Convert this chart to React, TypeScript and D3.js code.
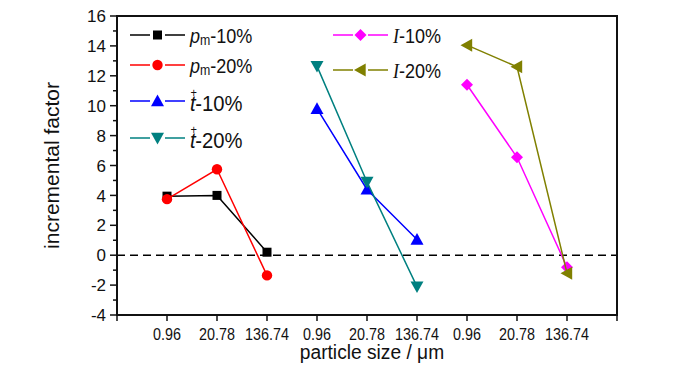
import * as d3 from 'd3'

const categories = ['0.96', '20.78', '136.74']
const groupCount = 3
const yTicks = [-4, -2, 0, 2, 4, 6, 8, 10, 12, 14, 16]

const pm10 = [3.95, 4.0, 0.2]
const pm20 = [3.75, 5.75, -1.35]
const t10 = [9.8, 4.4, 1.05]
const t20 = [12.65, 4.9, -2.1]
const i10 = [11.4, 6.55, -0.8]
const i20 = [14.05, 12.6, -1.2]

type Series = {key: string, group: number, values: number[], color: string, symbol: string}

const series: Series[] = [
  {key: 'pm10', group: 0, values: pm10, color: '#000000', symbol: 'square'},
  {key: 'pm20', group: 0, values: pm20, color: '#ff0000', symbol: 'circle'},
  {key: 't10', group: 1, values: t10, color: '#0000ff', symbol: 'up'},
  {key: 't20', group: 1, values: t20, color: '#008080', symbol: 'down'},
  {key: 'i10', group: 2, values: i10, color: '#ff00ff', symbol: 'diamond'},
  {key: 'i20', group: 2, values: i20, color: '#808000', symbol: 'left'},
]

const width = 700
const height = 374
const marginLeft = 117
const marginRight = 83
const marginTop = 16
const marginBottom = 59

const x = d3.scaleLinear([-1, groupCount * categories.length], [marginLeft, width - marginRight])
const y = d3.scaleLinear([-4, 16], [height - marginBottom, marginTop])

const line = d3.line<number>()
  .x((_, i) => x(i))
  .y(d => y(d))

// squeeze text horizontally around its anchor, the source fonts are narrow
const squeeze = (ax: number, k: number) => `translate(${ax},0) scale(${k},1) translate(${-ax},0)`

const Marker = ({sym, cx, cy, color}: {sym: string, cx: number, cy: number, color: string}) => {
  if (sym === 'square') return <rect x={cx - 4.5} y={cy - 4.5} width={9} height={9} fill={color} />
  if (sym === 'circle') return <circle cx={cx} cy={cy} r={5.2} fill={color} />
  const s = 6.5
  let pts = ''
  if (sym === 'up') pts = `${cx},${cy - s} ${cx + s},${cy + s * 0.8} ${cx - s},${cy + s * 0.8}`
  if (sym === 'down') pts = `${cx},${cy + s} ${cx + s},${cy - s * 0.8} ${cx - s},${cy - s * 0.8}`
  if (sym === 'left') pts = `${cx - s},${cy} ${cx + s * 0.8},${cy - s} ${cx + s * 0.8},${cy + s}`
  if (sym === 'diamond') pts = `${cx},${cy - 6} ${cx + 6},${cy} ${cx},${cy + 6} ${cx - 6},${cy}`
  return <polygon points={pts} fill={color} />
}

const legendItems = [
  {s: series[0], lx: 130, ly: 35},
  {s: series[1], lx: 130, ly: 65},
  {s: series[2], lx: 130, ly: 101},
  {s: series[3], lx: 130, ly: 138},
  {s: series[4], lx: 333, ly: 35},
  {s: series[5], lx: 333, ly: 70},
]

const legendLabel = (key: string) => {
  const pct = key.endsWith('10') ? '-10%' : '-20%'
  if (key.startsWith('pm')) return (
    <>
      <tspan fontStyle="italic">p</tspan>
      <tspan fontSize={14} dy={2}>m</tspan>
      <tspan dy={-2}>{pct}</tspan>
    </>
  )
  if (key.startsWith('t')) return (
    <>
      <tspan fontStyle="italic">t</tspan>
      <tspan fontSize={12} dx={-5.5} dy={-14}>+</tspan>
      <tspan dx={-2} dy={14}>{pct}</tspan>
    </>
  )
  return (
    <>
      <tspan fontStyle="italic" fontFamily="'Liberation Serif', serif">I</tspan>
      <tspan>{pct}</tspan>
    </>
  )
}

export default function App() {
  const minorTicks = d3.range(-4, 17, 1)
  const xTickIdx = d3.range(-1, groupCount * categories.length + 1)
  const x0 = marginLeft, x1 = width - marginRight
  const y0 = height - marginBottom, y1 = marginTop
  return (
    <div style={{position: 'absolute', left: 0, top: 0}}>
      <svg width={width} height={height} viewBox={`0 0 ${width} ${height}`}
        style={{display: 'block', fontFamily: "'Liberation Sans', Arial, sans-serif"}}>
        <rect width={width} height={height} fill="#fff" />
        {/* zero line */}
        <line x1={x0} x2={x1} y1={y(0)} y2={y(0)} stroke="#000" strokeWidth={1.5} strokeDasharray="8,5" />

        {/* series */}
        {series.map(s => {
          const offset = s.group * categories.length
          return (
            <g key={s.key}>
              <path d={line(s.values)!} transform={`translate(${x(offset) - x(0)},0)`}
                fill="none" stroke={s.color} strokeWidth={1.5} />
              {s.values.map((v, i) => (
                <Marker key={i} sym={s.symbol} cx={x(offset + i)} cy={y(v)} color={s.color} />
              ))}
            </g>
          )
        })}

        {/* frame */}
        <rect x={x0} y={y1} width={x1 - x0} height={y0 - y1} fill="none" stroke="#111" strokeWidth={2} />

        {/* y axis ticks */}
        {minorTicks.map(t => (
          <line key={t} x1={x0} x2={x0 - (t % 2 === 0 ? 7 : 4)} y1={y(t)} y2={y(t)} stroke="#111" strokeWidth={1.5} />
        ))}
        {yTicks.map(t => (
          <text key={t} x={106} y={y(t)} dy="0.36em" textAnchor="end" fontSize={17} fill="#111">{t}</text>
        ))}

        {/* x axis ticks */}
        {xTickIdx.map(i => (
          <line key={i} x1={x(i)} x2={x(i)} y1={y0} y2={y0 + 6} stroke="#111" strokeWidth={1.5} />
        ))}
        {d3.range(groupCount * categories.length).map(i => (
          <text key={i} x={x(i)} y={y0 + 25} textAnchor="middle" fontSize={16.5} fill="#111"
            transform={squeeze(x(i), 0.87)}>
            {categories[i % categories.length]}
          </text>
        ))}

        {/* axis titles */}
        <text x={(x0 + x1) / 2 + 5} y={359} textAnchor="middle" fontSize={20} fill="#111"
          transform={squeeze((x0 + x1) / 2 + 5, 0.96)}>particle size / μm</text>
        <text transform={`translate(59,${(y0 + y1) / 2}) rotate(-90)`} textAnchor="middle" fontSize={21} fill="#111">incremental factor</text>

        {/* legend */}
        {legendItems.map(({s, lx, ly}) => {
          const isT = s.key.startsWith('t')
          const tx = lx + 60
          return (
            <g key={s.key}>
              <line x1={lx} x2={lx + 20} y1={ly} y2={ly} stroke={s.color} strokeWidth={1.5} />
              <line x1={lx + 35} x2={lx + 55} y1={ly} y2={ly} stroke={s.color} strokeWidth={1.5} />
              <Marker sym={s.symbol} cx={lx + 27.5} cy={ly} color={s.color} />
              <text x={tx} y={ly + (isT ? 10 : 8.5)} fontSize={isT ? 22 : 20.5} fill="#111"
                transform={squeeze(tx, isT ? 0.92 : 0.88)}>{legendLabel(s.key)}</text>
            </g>
          )
        })}
      </svg>
    </div>
  )
}
